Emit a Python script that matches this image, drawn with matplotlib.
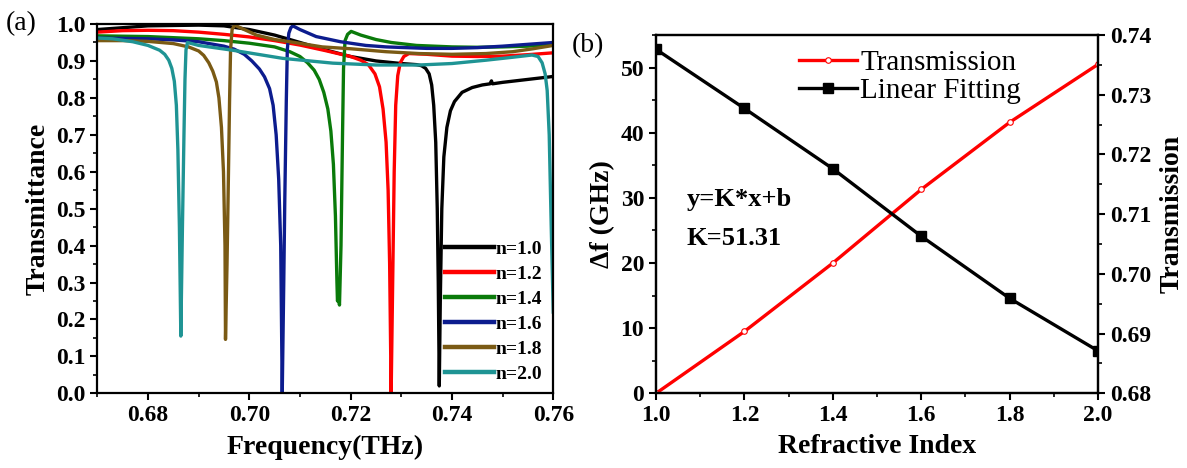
import matplotlib
matplotlib.use("Agg")
import matplotlib.pyplot as plt
from matplotlib.ticker import MultipleLocator, FormatStrFormatter

plt.rcParams['font.family'] = ['Liberation Serif', 'DejaVu Serif']

# ---- panel (a): transmittance spectra ----
f_10 = [0.670, 0.675, 0.680, 0.690, 0.695, 0.700, 0.705, 0.710, 0.715, 0.720,
        0.725, 0.730, 0.733, 0.734, 0.7348, 0.7355, 0.7360, 0.7364, 0.7368,
        0.7371, 0.7373, 0.7375, 0.7377, 0.7380, 0.7384, 0.7390, 0.7397, 0.7405,
        0.742, 0.744, 0.746, 0.7475, 0.7478, 0.748, 0.750, 0.755, 0.760]
t_10 = [0.985, 0.990, 0.995, 0.997, 0.995, 0.985, 0.970, 0.950, 0.930, 0.912,
        0.900, 0.893, 0.890, 0.887, 0.880, 0.865, 0.835, 0.780, 0.680,
        0.500, 0.300, 0.020, 0.250, 0.500, 0.640, 0.720, 0.765, 0.790,
        0.815, 0.828, 0.835, 0.838, 0.846, 0.838, 0.842, 0.850, 0.858]

f_12 = [0.670, 0.675, 0.680, 0.685, 0.690, 0.695, 0.700, 0.705, 0.710, 0.715,
        0.720, 0.722, 0.7235, 0.7248, 0.7257, 0.7264, 0.7270, 0.7274, 0.7277,
        0.7280, 0.7283, 0.7286, 0.7289, 0.7293, 0.7298, 0.7305, 0.7315, 0.735,
        0.740, 0.745, 0.750, 0.755, 0.760]
t_12 = [0.978, 0.982, 0.983, 0.982, 0.978, 0.972, 0.965, 0.955, 0.943, 0.928,
        0.912, 0.902, 0.890, 0.865, 0.830, 0.770, 0.680, 0.550, 0.350,
        0.000, 0.300, 0.600, 0.780, 0.860, 0.895, 0.912, 0.920, 0.918,
        0.913, 0.912, 0.913, 0.917, 0.922]

f_14 = [0.670, 0.680, 0.690, 0.695, 0.700, 0.705, 0.708, 0.710, 0.7115, 0.7128,
        0.7138, 0.7147, 0.7155, 0.7161, 0.7166, 0.7170, 0.7173, 0.7174, 0.7176,
        0.7178, 0.7181, 0.7184, 0.7186, 0.7189, 0.7194, 0.7201, 0.722, 0.725,
        0.728, 0.733, 0.740, 0.745, 0.750, 0.755, 0.760]
t_14 = [0.968, 0.966, 0.960, 0.955, 0.948, 0.938, 0.925, 0.912, 0.895, 0.875,
        0.850, 0.815, 0.770, 0.710, 0.620, 0.480, 0.300, 0.250, 0.260,
        0.239, 0.400, 0.700, 0.880, 0.955, 0.972, 0.980, 0.970, 0.958,
        0.950, 0.942, 0.938, 0.937, 0.938, 0.940, 0.945]

f_16 = [0.670, 0.680, 0.685, 0.690, 0.695, 0.697, 0.699, 0.7005, 0.702, 0.703,
        0.704, 0.7047, 0.7053, 0.7058, 0.7062, 0.7065, 0.7068, 0.7070, 0.7073,
        0.7075, 0.7078, 0.7082, 0.7086, 0.710, 0.7132, 0.718, 0.723, 0.727,
        0.735, 0.740, 0.745, 0.750, 0.755, 0.760]
t_16 = [0.962, 0.960, 0.957, 0.952, 0.940, 0.932, 0.918, 0.900, 0.878, 0.857,
        0.825, 0.780, 0.700, 0.580, 0.400, 0.000, 0.300, 0.520, 0.790,
        0.930, 0.975, 0.990, 0.995, 0.985, 0.966, 0.952, 0.942, 0.938,
        0.934, 0.934, 0.936, 0.940, 0.945, 0.950]

f_18 = [0.670, 0.675, 0.680, 0.685, 0.688, 0.690, 0.691, 0.692, 0.6928, 0.6935,
        0.6940, 0.6945, 0.6949, 0.6952, 0.6953, 0.6956, 0.6958, 0.6961, 0.6963,
        0.6966, 0.6971, 0.699, 0.7014, 0.705, 0.708, 0.7144, 0.720, 0.727,
        0.7335, 0.740, 0.7467, 0.752, 0.756, 0.760]
t_18 = [0.955, 0.955, 0.953, 0.947, 0.938, 0.927, 0.915, 0.895, 0.872, 0.843,
        0.800, 0.720, 0.600, 0.400, 0.146, 0.350, 0.520, 0.790, 0.930,
        0.985, 0.997, 0.985, 0.970, 0.958, 0.952, 0.938, 0.933, 0.925,
        0.920, 0.918, 0.920, 0.925, 0.933, 0.942]

f_20 = [0.670, 0.673, 0.677, 0.680, 0.6823, 0.6833, 0.6841, 0.6847, 0.6852,
        0.6856, 0.6859, 0.6862, 0.68648, 0.6868, 0.6871, 0.6873, 0.6875, 0.6878,
        0.690, 0.6967, 0.7066, 0.7165, 0.725, 0.7335, 0.740, 0.7467, 0.752,
        0.7558, 0.757, 0.7578, 0.7584, 0.7588, 0.7592, 0.7596, 0.760]
t_20 = [0.962, 0.960, 0.952, 0.942, 0.929, 0.918, 0.902, 0.880, 0.845,
        0.780, 0.660, 0.450, 0.155, 0.450, 0.700, 0.850, 0.930, 0.950,
        0.942, 0.929, 0.907, 0.894, 0.889, 0.889, 0.893, 0.902, 0.910,
        0.916, 0.912, 0.895, 0.865, 0.820, 0.700, 0.450, 0.220]

spectra = [
    (f_10, t_10, 'black', 'n=1.0'),
    (f_12, t_12, '#ff0000', 'n=1.2'),
    (f_14, t_14, '#0a7a0a', 'n=1.4'),
    (f_16, t_16, '#0c1c8e', 'n=1.6'),
    (f_18, t_18, '#7a5a14', 'n=1.8'),
    (f_20, t_20, '#1f9494', 'n=2.0'),
]

# ---- panel (b) ----
index = [1.0, 1.2, 1.4, 1.6, 1.8, 2.0]
delta_f = [0.0, 9.5, 20.0, 31.3, 41.6, 50.5]
res_freq = [0.7376, 0.7277, 0.7176, 0.7063, 0.6959, 0.6871]

fig = plt.figure(figsize=(11.87, 4.68), dpi=100)

ax = fig.add_axes([0.0820, 0.1596, 0.3841, 0.7891])
for f, t, c, lab in spectra:
    ax.plot(f, t, color=c, lw=2.4, label=lab, solid_joinstyle='round')
ax.set_xlim(0.67, 0.76)
ax.set_ylim(0.0, 1.0)
ax.xaxis.set_major_locator(MultipleLocator(0.02))
ax.xaxis.set_minor_locator(MultipleLocator(0.01))
ax.yaxis.set_major_locator(MultipleLocator(0.1))
ax.yaxis.set_minor_locator(MultipleLocator(0.05))
ax.xaxis.set_major_formatter(FormatStrFormatter('%.2f'))
ax.yaxis.set_major_formatter(FormatStrFormatter('%.1f'))
ax.set_xlabel('Frequency(THz)', fontsize=20, fontweight='bold', labelpad=6)
ax.set_ylabel('Transmittance', fontsize=20, fontweight='bold', labelpad=4)
leg = ax.legend(loc='lower right', frameon=False, prop={'size': 14, 'weight': 'bold'},
                handlelength=2.5, handletextpad=0.1, labelspacing=0.38,
                borderaxespad=0.15)
for h in leg.get_lines():
    h.set_linewidth(3.2)
ax.text(-0.2, 1.0, '(a)', transform=ax.transAxes, fontsize=20, va='center')

ax_b = fig.add_axes([0.5527, 0.1596, 0.3724, 0.7656])
l1, = ax_b.plot(index, delta_f, color='#ff0000', lw=2.4, marker='o', ms=4,
                mfc='white', mec='#ff0000', mew=0.8, label='Transmission')
ax_b.set_xlim(1.0, 2.0)
ax_b.set_ylim(0, 55)
ax_b.xaxis.set_major_locator(MultipleLocator(0.2))
ax_b.xaxis.set_minor_locator(MultipleLocator(0.1))
ax_b.yaxis.set_major_locator(MultipleLocator(10))
ax_b.yaxis.set_minor_locator(MultipleLocator(5))
ax_b.xaxis.set_major_formatter(FormatStrFormatter('%.1f'))
ax_b.set_xlabel('Refractive Index', fontsize=20, fontweight='bold', labelpad=6)
ax_b.set_ylabel('Δf (GHz)', fontsize=20, fontweight='bold', labelpad=4)

ax_r = ax_b.twinx()
l2, = ax_r.plot(index, res_freq, color='black', lw=2.4, marker='s', ms=7,
                label='Linear Fitting')
ax_r.set_ylim(0.68, 0.74)
ax_r.yaxis.set_major_locator(MultipleLocator(0.01))
ax_r.yaxis.set_minor_locator(MultipleLocator(0.005))
ax_r.yaxis.set_major_formatter(FormatStrFormatter('%.2f'))
ax_r.set_ylabel('Transmission', fontsize=20, fontweight='bold', labelpad=6)
ax_r.legend(handles=[l1, l2], loc='upper left', bbox_to_anchor=(0.29, 1.0),
            frameon=False, prop={'size': 21}, handlelength=2.0,
            handletextpad=0.1, labelspacing=0.05, borderaxespad=0.1)

ax_b.text(0.07, 0.54, 'y=K*x+b', transform=ax_b.transAxes, fontsize=19,
          fontweight='bold', va='center')
ax_b.text(0.07, 0.433, 'K=51.31', transform=ax_b.transAxes, fontsize=19,
          fontweight='bold', va='center')
ax_b.text(-0.19, 0.97, '(b)', transform=ax_b.transAxes, fontsize=20, va='center')

for a in (ax, ax_b, ax_r):
    for s in a.spines.values():
        s.set_linewidth(1.6)
    a.tick_params(which='major', direction='out', length=5, width=1.5,
                  labelsize=17)
    a.tick_params(which='minor', direction='out', length=3, width=1.2)
    for lab in a.get_xticklabels() + a.get_yticklabels():
        lab.set_fontweight('bold')

plt.savefig('out.png', dpi=100)
